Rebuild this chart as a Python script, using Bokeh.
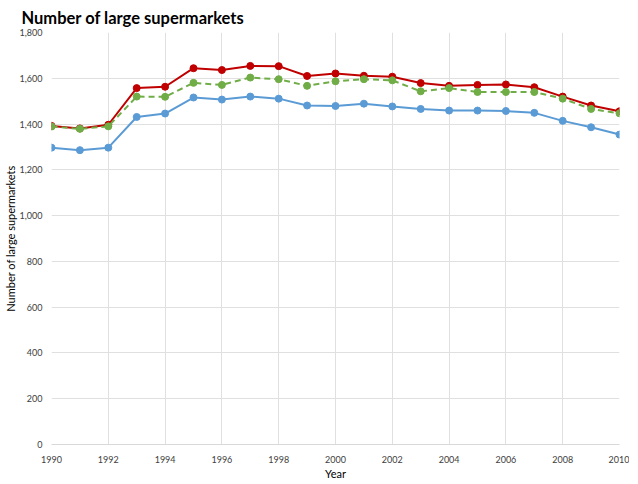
from bokeh.plotting import figure
from bokeh.embed import file_html
from bokeh.resources import INLINE
from bokeh.models import FixedTicker, Range1d, NumeralTickFormatter

years = list(range(1990, 2011))
series_red = [1392, 1381, 1397, 1557, 1563, 1644, 1636, 1654, 1653, 1610,
              1621, 1611, 1607, 1579, 1567, 1571, 1573, 1561, 1520, 1481, 1456]
series_green = [1389, 1379, 1390, 1520, 1519, 1580, 1571, 1603, 1596, 1567,
                1587, 1596, 1591, 1543, 1557, 1540, 1540, 1540, 1511, 1466, 1447]
series_blue = [1297, 1286, 1297, 1431, 1446, 1516, 1507, 1520, 1511, 1481,
               1479, 1489, 1477, 1466, 1459, 1459, 1457, 1449, 1414, 1386, 1354]
x_ticks = list(range(1990, 2011, 2))
y_ticks = list(range(0, 1801, 200))

FONT = "Lato"

p = figure(frame_width=568, frame_height=412, output_backend="svg",
           toolbar_location=None, x_range=Range1d(1990, 2010),
           y_range=Range1d(0, 1800), title="Number of large supermarkets")
p.min_border_left = 0
p.min_border_right = 10
p.min_border_top = 0
p.min_border_bottom = 0
p.outline_line_color = None

p.title.text_font = FONT
p.title.text_font_size = "16.5px"
p.title.text_font_style = "bold"
p.title.text_color = "#000000"
p.title.offset = -30
p.title.standoff = 10

p.xaxis.ticker = FixedTicker(ticks=x_ticks)
p.yaxis.ticker = FixedTicker(ticks=y_ticks)
p.yaxis.formatter = NumeralTickFormatter(format="0,0")
for ax in (p.xaxis[0], p.yaxis[0]):
    ax.major_tick_line_color = None
    ax.minor_tick_line_color = None
    ax.major_label_text_font = FONT
    ax.major_label_text_font_size = "9px"
    ax.major_label_text_color = "#404040"
    ax.axis_label_text_font = FONT
    ax.axis_label_text_font_size = "11px"
    ax.axis_label_text_font_style = "normal"
    ax.axis_label_text_color = "#000000"
p.xaxis.axis_line_color = "#d9d9d9"
p.yaxis.axis_line_color = None
p.xaxis.axis_label = "Year"
p.yaxis.axis_label = "Number of large supermarkets"
p.xaxis.major_label_standoff = 5
p.yaxis.major_label_standoff = 3
p.xaxis.axis_label_standoff = 1
p.yaxis.axis_label_standoff = 0

p.xgrid.grid_line_color = "#e0e0e0"
p.ygrid.grid_line_color = "#e0e0e0"

p.line(years, series_red, line_color="#C00000", line_width=2)
p.scatter(years, series_red, size=7, fill_color="#C00000", line_color="#C00000")
p.line(years, series_green, line_color="#70AD47", line_width=2, line_dash="6 4")
p.scatter(years, series_green, size=7, fill_color="#70AD47", line_color="#70AD47")
p.line(years, series_blue, line_color="#5B9BD5", line_width=2)
p.scatter(years, series_blue, size=7, fill_color="#5B9BD5", line_color="#5B9BD5")

open("out.html", "w").write(file_html(p, INLINE))
